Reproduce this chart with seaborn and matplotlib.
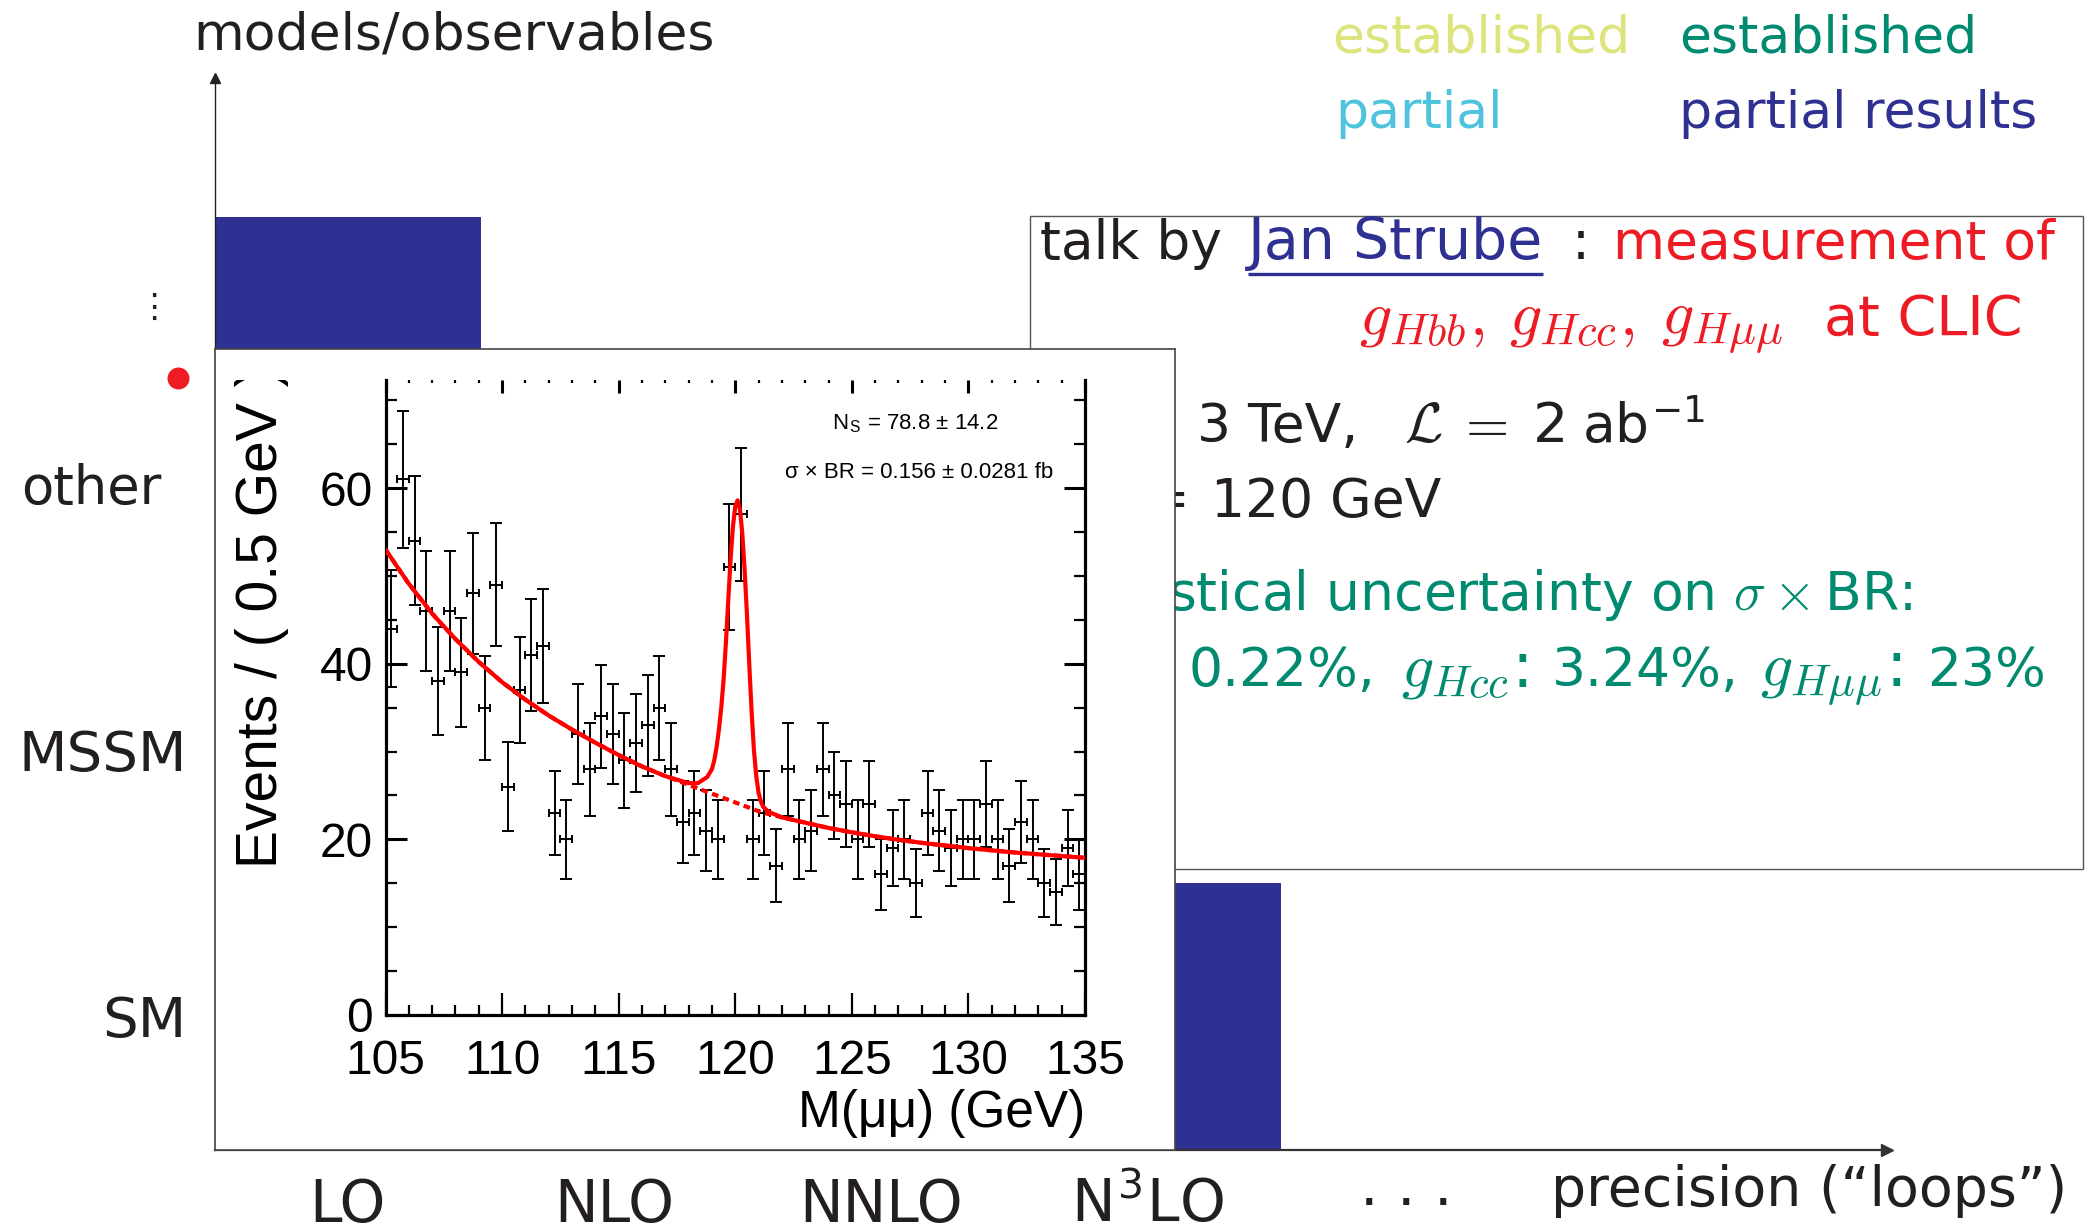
import numpy as np
import matplotlib
matplotlib.use("Agg")
import matplotlib.pyplot as plt
import seaborn as sns
from matplotlib.ticker import MultipleLocator
from matplotlib.patches import Rectangle
from matplotlib.transforms import Bbox, TransformedBbox
from matplotlib import font_manager as fm

# ------------------------------------------------------------------ data
# slide grid: precision columns and model rows
precision_labels = ["LO", "NLO", "NNLO", r"N$^{\mathregular{3}}$LO", "· · ·"]
precision_pos = [0.5, 1.5, 2.5, 3.5, 4.47]
model_labels = ["SM", "MSSM", "other"]
model_pos = [0.5, 1.5, 2.5]
model_label_right = [-0.104, -0.104, -0.200]
model_label_size = [40.5, 40.5, 38]

# "partial results" blocks: column start, row bottom, height (in grid cells)
bar_col = [0, 3]
bar_bottom = [3.0, 0.0]
bar_height = [0.5, 1.0]

# red bullet next to the row axis
highlight_col = [-0.137]
highlight_row = [2.895]

# inset: M(mu mu) histogram, 0.5 GeV bins starting at 105 GeV
bin_low = 105.0
bin_width = 0.5
counts = [44, 61, 54, 46, 38, 46, 39, 48, 35, 49,
          26, 37, 41, 42, 23, 20, 32, 28, 34, 32,
          29, 31, 33, 35, 28, 22, 23, 21, 20, 51,
          57, 20, 23, 17, 28, 20, 21, 28, 25, 24,
          20, 24, 16, 19, 20, 15, 23, 21, 19, 20,
          20, 24, 20, 17, 22, 20, 15, 14, 19, 16]

# fitted curves
fit_mass = [105, 106, 107, 108, 109, 110, 111, 112, 113, 114, 115, 116, 117,
            117.5, 118, 118.4, 118.8, 119.0, 119.1, 119.2, 119.3, 119.4, 119.5,
            119.6, 119.7, 119.8, 119.9, 120.0, 120.1, 120.2, 120.3, 120.4, 120.5,
            120.6, 120.7, 120.8, 120.9, 121.0, 121.1, 121.2, 121.4, 121.6,
            122, 123, 124, 125, 126, 127, 128, 129, 130, 131, 132, 133, 134, 135]
fit_bkg = [53.0, 49.1, 45.7, 42.8, 40.2, 37.9, 35.9, 34.1, 32.5, 31.0, 29.6, 28.3, 27.2,
           26.7, 26.2, 25.8, 25.4, 25.2, 25.1, 25.0, 24.9, 24.8, 24.7,
           24.6, 24.5, 24.4, 24.3, 24.2, 24.1, 24.0, 23.9, 23.8, 23.7,
           23.6, 23.5, 23.4, 23.3, 23.2, 23.1, 23.05, 22.9, 22.8,
           22.5, 21.9, 21.3, 20.8, 20.35, 19.95, 19.6, 19.3, 19.0, 18.75, 18.5, 18.3, 18.1, 17.9]
fit_total = [53.0, 49.1, 45.7, 42.8, 40.2, 37.9, 35.9, 34.1, 32.5, 31.0, 29.6, 28.3, 27.2,
             26.8, 26.4, 26.4, 27.1, 28.0, 29.0, 30.5, 32.5, 35.0, 38.2,
             42.4, 47.2, 51.9, 55.6, 57.9, 58.6, 57.6, 54.9, 50.8, 45.7,
             40.0, 34.6, 30.2, 27.2, 25.3, 24.3, 23.7, 23.2, 22.95,
             22.5, 21.9, 21.3, 20.8, 20.35, 19.95, 19.6, 19.3, 19.0, 18.75, 18.5, 18.3, 18.1, 17.9]

# ------------------------------------------------------------------ style
sns.set_theme(style="ticks")
plt.rcParams["font.family"] = ["DejaVu Sans"]
plt.rcParams["mathtext.fontset"] = "cm"
plt.rcParams["axes.unicode_minus"] = True

names = {f.name for f in fm.fontManager.ttflist}
ROOT_FONT = "Liberation Sans" if "Liberation Sans" in names else "DejaVu Sans"

C_BLUE = "#2e3192"
C_RED = "#ed1c24"
C_TEAL = "#008a70"
C_PALE = "#dde47c"
C_CYAN = "#4ec3dd"
C_TXT = "#231f20"

W, H = 2089, 1231
fig = plt.figure(figsize=(W / 100, H / 100), dpi=100)
fig.patch.set_facecolor("white")

# slide axes: origin at the arrow crossing, unit = one grid cell
ox, oy, unit = 214.5, 1149.5, 266.5
x_end, y_end = 1887.0, 78.0
ax = fig.add_axes([ox / W, 1 - oy / H, (x_end - ox) / W, (oy - y_end) / H], zorder=0)
ax.set_xlim(0, (x_end - ox) / unit)
ax.set_ylim(0, (oy - y_end) / unit)
ax.set_facecolor("none")


def dx(px):
    return (px - ox) / unit


def dy(py):
    return (oy - py) / unit


def put(px, py, s, size, color=C_TXT, ha="left"):
    return ax.text(dx(px), dy(py), s, fontsize=size, color=color, ha=ha,
                   va="baseline", clip_on=False)


for s in ["top", "right"]:
    ax.spines[s].set_visible(False)
ax.spines["left"].set_linewidth(1.0)
ax.spines["left"].set_color("#222222")
ax.spines["bottom"].set_linewidth(1.6)
ax.spines["bottom"].set_color("#333333")
ax.plot(1, 0, ">", color="#333333", ms=9, transform=ax.get_yaxis_transform(), clip_on=False)
ax.plot(0, 1, "^", color="#222222", ms=7, transform=ax.get_xaxis_transform(), clip_on=False)

ax.bar([c + 0.5 for c in bar_col], bar_height, width=1.0, bottom=bar_bottom,
       color=C_BLUE, zorder=2, clip_on=False, linewidth=0)

ax.set_xticks(precision_pos, labels=precision_labels)
ax.tick_params(axis="x", length=0, pad=52, labelsize=42, labelcolor=C_TXT)
for lbl in ax.get_xticklabels():
    lbl.set_verticalalignment("baseline")
ax.set_yticks([])
for lbl, yv, xr, fs in zip(model_labels, model_pos, model_label_right, model_label_size):
    ax.text(xr, yv, lbl, fontsize=fs, color=C_TXT, ha="right", va="center_baseline",
            clip_on=False)

put(193, 49, "models/observables", 37.5)
put(1809, 1206, "precision (“loops”)", 40, ha="center")

ax.scatter(highlight_col, highlight_row, s=250, color=C_RED, linewidths=0,
           zorder=3, clip_on=False)
ax.text(dx(154), dy(307), "⋮", fontsize=24, color=C_TXT, ha="center", va="center",
        clip_on=False)

# colour key
put(1332, 52, "established", 37.5, C_PALE)
put(1679, 52, "established", 37.5, C_TEAL)
put(1335, 128, "partial", 37.5, C_CYAN)
put(1679, 128, "partial results", 37.5, C_BLUE)

# talk box
ax.add_patch(Rectangle((dx(1030), dy(869)), dx(2082.5) - dx(1030), dy(216) - dy(869),
                       fill=False, ec="#555555", lw=1.0, clip_on=False, zorder=1))
FS = 38.5
MS = 46
put(1040, 259, "talk by", FS)
t_name = put(1248, 259, "Jan Strube", 41, C_BLUE)
put(1572, 259, ":", FS)
put(1613, 259, "measurement of", FS, C_RED)

put(1359, 334.5, r"$g_{Hbb},$", MS, C_RED)
put(1509, 334.5, r"$g_{Hcc},$", MS, C_RED)
put(1661, 334.5, r"$g_{H\mu\mu}$", MS, C_RED)
put(2022, 334.5, "at CLIC", 40, C_RED, ha="right")

put(1160, 442, r"$\sqrt{s}$ =", FS, ha="right")
put(1197, 442, "3 TeV,", FS)
put(1404, 442, r"$\mathcal{L}\;=\;\mathregular{2}$", 40)
put(1582, 442, r"ab$^{\mathregular{-1}}$", FS)

put(1186, 517, r"$m_H$ =", FS, ha="right")
put(1210.6, 517, "120 GeV", FS)

put(1168.5, 610, "stati", FS, C_TEAL, ha="right")
put(1168.5, 610, r"stical uncertainty on $\sigma\times\mathregular{BR}$:", FS, C_TEAL)

put(1160, 686, r"$g_{Hbb}$:", FS, C_TEAL, ha="right")
put(1189, 686, "0.22%,", FS, C_TEAL)
put(1401, 686, r"$g_{Hcc}$:", MS, C_TEAL)
put(1552, 686, "3.24%,", FS, C_TEAL)
put(1760, 686, r"$g_{H\mu\mu}$:", MS, C_TEAL)
put(1927, 686, "23%", FS, C_TEAL)

# underline the speaker name
fig.canvas.draw()
bb = t_name.get_window_extent(fig.canvas.get_renderer()).transformed(ax.transData.inverted())
ax.plot([bb.x0, bb.x1], [dy(273.7)] * 2, color=C_BLUE, lw=2.4, clip_on=False,
        solid_capstyle="butt")

# ------------------------------------------------------------------ inset panel
p0 = fig.transFigure.inverted().transform(ax.transData.transform((0, 0)))
p1 = fig.transFigure.inverted().transform(ax.transData.transform((3.604, 3.004)))
ax_panel = fig.add_axes([p0[0], p0[1], p1[0] - p0[0], p1[1] - p0[1]], zorder=1)
ax_panel.set_xticks([])
ax_panel.set_yticks([])
ax_panel.set_facecolor("white")
for s in ax_panel.spines.values():
    s.set_color("#444444")
    s.set_linewidth(1.2)

# ------------------------------------------------------------------ ROOT plot
ax_in = fig.add_axes([385.5 / W, 1 - 1015 / H, (1085 - 385.5) / W, (1015 - 380) / H], zorder=2)
ax_in.set_facecolor("none")

centers = [bin_low + bin_width * (i + 0.5) for i in range(len(counts))]
errs = np.sqrt(np.array(counts, dtype=float))
ax_in.errorbar(centers, counts, yerr=errs, fmt="none", ecolor="black", elinewidth=1.4,
               capsize=4.3, capthick=1.4, zorder=3)
ax_in.errorbar(centers, counts, xerr=bin_width / 2, fmt="none", ecolor="black",
               elinewidth=1.4, capsize=2.6, capthick=1.4, zorder=3)

sns.lineplot(x=fit_mass, y=fit_bkg, ax=ax_in, color="#ff0000", linewidth=3.0,
             linestyle=(0, (1.6, 1.1)), errorbar=None, zorder=4)
sns.lineplot(x=fit_mass, y=fit_total, ax=ax_in, color="#ff0000", linewidth=3.0,
             errorbar=None, zorder=5)

ax_in.set_xlim(105, 135)
ax_in.set_ylim(0, 72.3)
ax_in.spines["top"].set_visible(False)
for s in ["left", "bottom", "right"]:
    ax_in.spines[s].set_linewidth(2.3)
    ax_in.spines[s].set_color("black")

ax_in.xaxis.set_major_locator(MultipleLocator(5))
ax_in.xaxis.set_minor_locator(MultipleLocator(1))
ax_in.yaxis.set_major_locator(MultipleLocator(20))
ax_in.yaxis.set_minor_locator(MultipleLocator(5))
ax_in.tick_params(axis="both", which="both", direction="in", left=True, right=True,
                  bottom=True, top=False, color="black")
ax_in.tick_params(axis="y", which="major", length=15, width=2.2, pad=9)
ax_in.tick_params(axis="y", which="minor", length=8, width=1.6)
ax_in.tick_params(axis="x", which="major", length=16, width=1.6, pad=17)
ax_in.tick_params(axis="x", which="minor", length=7, width=1.6)
ax_in.tick_params(axis="both", labelsize=34.5, labelfontfamily=ROOT_FONT, labelcolor="black")

sec = ax_in.secondary_xaxis("top")
sec.xaxis.set_major_locator(MultipleLocator(5))
sec.xaxis.set_minor_locator(MultipleLocator(1))
sec.tick_params(axis="x", which="major", direction="in", length=9, width=2.2,
                labeltop=False, labelbottom=False, color="black")
sec.tick_params(axis="x", which="minor", direction="in", length=2.5, width=1.6, color="black")
sec.spines["top"].set_visible(False)

ax_in.set_xlabel("M(μμ) (GeV)", fontsize=37, fontfamily=ROOT_FONT, color="black",
                 loc="right", labelpad=4)
ax_in.set_ylabel("Events / ( 0.5 GeV )", fontsize=41, fontfamily=ROOT_FONT, color="black",
                 loc="top")
ax_in.yaxis.set_label_coords(-0.138, 1.02)
lab = ax_in.yaxis.label
lab.set_clip_box(TransformedBbox(Bbox([[-1, -1], [2, 1]]), ax_in.transAxes))
lab.set_clip_on(True)

ax_in.text(127.7, 67.3, r"N$_{\mathregular{S}}$ = 78.8 ± 14.2", fontsize=16,
           fontfamily=ROOT_FONT, ha="center", va="center", color="black")
ax_in.text(127.9, 61.8, "σ × BR = 0.156 ± 0.0281 fb", fontsize=16,
           fontfamily=ROOT_FONT, ha="center", va="center", color="black")

fig.savefig("out.png", dpi=100, facecolor="white")
